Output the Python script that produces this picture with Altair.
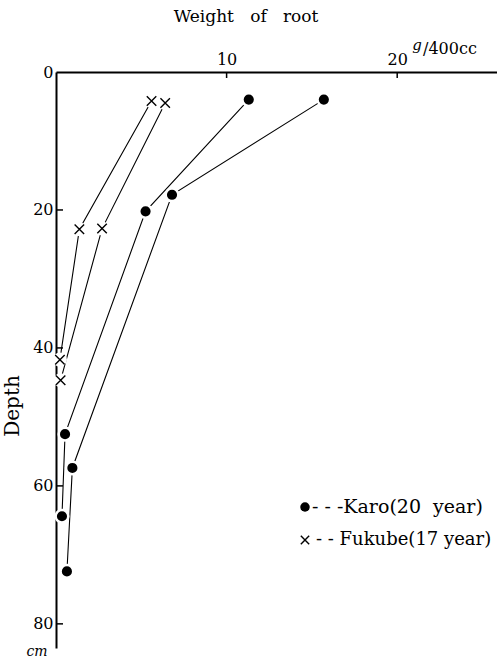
import altair as alt
import pandas as pd

# Root weight (g per 400 cc of soil) against depth (cm), two profiles per stand
karo_1_weight = [11.3, 5.25, 0.53, 0.35]
karo_1_depth = [4.0, 20.2, 52.5, 64.4]
karo_2_weight = [15.7, 6.8, 0.96, 0.64]
karo_2_depth = [4.0, 17.8, 57.4, 72.4]
fukube_1_weight = [5.6, 1.37, 0.23]
fukube_1_depth = [4.2, 22.8, 41.7]
fukube_2_weight = [6.4, 2.7, 0.27]
fukube_2_depth = [4.5, 22.7, 44.7]

x_tick_values = [10, 20]
y_label_values = [0, 20, 40, 60, 80]
y_tick_values = [20, 40, 60, 80]

NB = "\u00a0"  # non-breaking space keeps wide gaps in SVG text
title_text = f"Weight{NB*3}of{NB*3}root"
unit_g = "g"
unit_rest = "/400cc"
y_title = "Depth"
y_unit = "cm"
legend_karo = f"-{NB}-{NB}-Karo(20{NB*2}year)"
legend_fukube = f"-{NB}-{NB}Fukube(17{NB}year)"

FONT = "DejaVu Serif"
W, H = 441, 576


def profile(name, stand, weights, depths):
    return pd.DataFrame({
        "weight": weights,
        "depth": depths,
        "profile": name,
        "stand": stand,
        "order": list(range(len(weights))),
    })


df = pd.concat([
    profile("karo1", "Karo", karo_1_weight, karo_1_depth),
    profile("karo2", "Karo", karo_2_weight, karo_2_depth),
    profile("fukube1", "Fukube", fukube_1_weight, fukube_1_depth),
    profile("fukube2", "Fukube", fukube_2_weight, fukube_2_depth),
], ignore_index=True)

xs = alt.Scale(domain=[0, 25.85], nice=False, zero=False)
ys = alt.Scale(domain=[0, 83.5], nice=False, zero=False, reverse=True)

x_enc = alt.X(
    "weight:Q", scale=xs, title=None,
    axis=alt.Axis(orient="top", values=x_tick_values, ticks=False, grid=False,
                  domainColor="black", domainWidth=2, labelColor="black",
                  labelFont=FONT, labelFontSize=16, labelPadding=5),
)
y_enc = alt.Y(
    "depth:Q", scale=ys, title=None,
    axis=alt.Axis(orient="left", values=y_label_values, ticks=False, grid=False,
                  domainColor="black", domainWidth=2, labelColor="black",
                  labelFont=FONT, labelFontSize=16, labelPadding=3),
)

base = alt.Chart(df)

lines = base.mark_line(color="black", strokeWidth=1.1).encode(
    x=x_enc, y=y_enc, detail="profile:N", order="order:Q"
)

karo_pts = base.transform_filter(alt.datum.stand == "Karo").mark_point(
    shape="circle", filled=True, fill="black", stroke="white",
    strokeWidth=2.5, size=160, opacity=1
).encode(x="weight:Q", y="depth:Q")

fukube_halo = base.transform_filter(alt.datum.stand == "Fukube").mark_point(
    shape="circle", filled=True, fill="white", size=200, opacity=1
).encode(x="weight:Q", y="depth:Q")

cross_path = "M-1,-1L1,1M-1,1L1,-1"
fukube_pts = base.transform_filter(alt.datum.stand == "Fukube").mark_point(
    shape=cross_path, filled=False, stroke="black", strokeWidth=1.4,
    size=90, opacity=1
).encode(x="weight:Q", y="depth:Q")

x_ticks = alt.Chart(pd.DataFrame({"v": x_tick_values})).mark_rule(
    color="black", strokeWidth=1.5
).encode(x=alt.X("v:Q", scale=xs), y=alt.value(0), y2=alt.value(6))

y_ticks = alt.Chart(pd.DataFrame({"v": y_tick_values})).mark_rule(
    color="black", strokeWidth=1.5
).encode(y=alt.Y("v:Q", scale=ys), x=alt.value(0), x2=alt.value(7))


def label(text, x, y, size, **kw):
    return alt.Chart(pd.DataFrame({"t": [text]})).mark_text(
        font=FONT, fontSize=size, color="black", **kw
    ).encode(x=alt.value(x), y=alt.value(y), text="t:N")


title = label(title_text, 190, -55, 17, align="center", baseline="middle")
unit_a = label(unit_g, 361, -27, 15, align="center", baseline="middle",
               fontStyle="italic")
unit_b = label(unit_rest, 367, -23, 16, align="left", baseline="middle")
depth_lbl = label(y_title, -43, 334, 20, align="center", baseline="middle",
                  angle=270)
cm_lbl = label(y_unit, -19, 580, 14, align="center", baseline="middle",
               fontStyle="italic")

leg_dot = alt.Chart(pd.DataFrame({"s": ["Karo"]})).mark_point(
    shape="circle", filled=True, fill="black", size=90, opacity=1
).encode(x=alt.value(249), y=alt.value(435))
leg_cross = alt.Chart(pd.DataFrame({"s": ["Fukube"]})).mark_point(
    shape=cross_path, filled=False, stroke="black", strokeWidth=1.4,
    size=70, opacity=1
).encode(x=alt.value(249), y=alt.value(468))
leg_karo = label(legend_karo, 256, 435, 19, align="left", baseline="middle")
leg_fukube = label(legend_fukube, 260, 468, 18, align="left",
                   baseline="middle")

chart = alt.layer(
    lines, fukube_halo, fukube_pts, karo_pts, x_ticks, y_ticks,
    title, unit_a, unit_b, depth_lbl, cm_lbl,
    leg_dot, leg_cross, leg_karo, leg_fukube,
).properties(
    width=W, height=H,
    autosize=alt.AutoSizeParams(type="none"),
    padding={"left": 56, "top": 72, "right": 0, "bottom": 13},
    background="white",
).configure_view(stroke=None)

chart.save("out.html", embed_options={"renderer": "svg", "actions": False})
